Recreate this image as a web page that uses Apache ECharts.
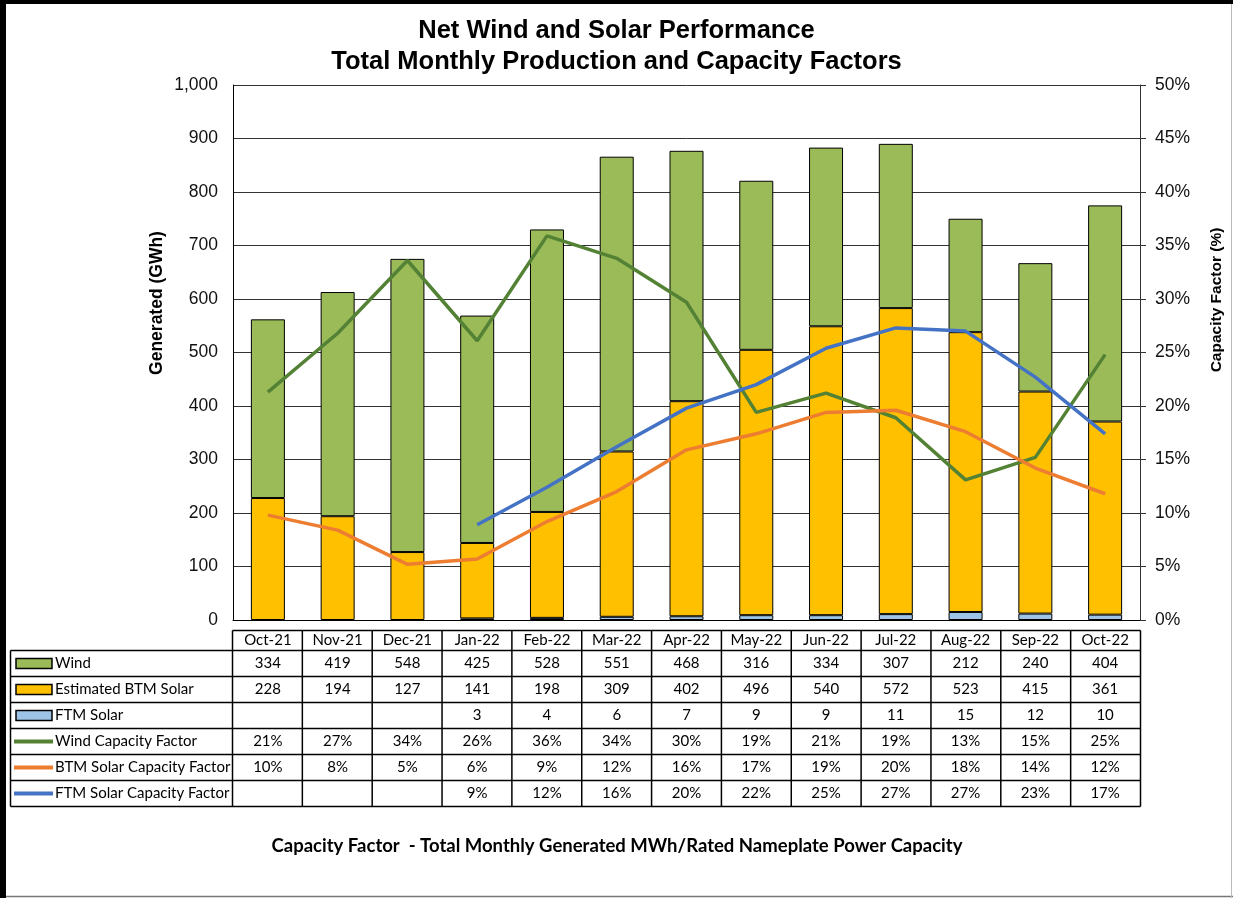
<!DOCTYPE html>
<html><head><meta charset="utf-8">
<script src="https://cdn.jsdelivr.net/npm/echarts@6/dist/echarts.min.js"></script>
<style>html,body{margin:0;padding:0;background:#fff}#c{width:1233px;height:898px}</style>
</head><body><div id="c"></div>
<script>
const categories = ['Oct-21','Nov-21','Dec-21','Jan-22','Feb-22','Mar-22','Apr-22','May-22','Jun-22','Jul-22','Aug-22','Sep-22','Oct-22'];
const wind = [334,419,548,425,528,551,468,316,334,307,212,240,404];
const btmSolar = [228,194,127,141,198,309,402,496,540,572,523,415,361];
const ftmSolar = [null,null,null,3,4,6,7,9,9,11,15,12,10];
const windCF = [21.3,26.8,33.6,26.1,35.9,33.8,29.7,19.4,21.2,18.9,13.1,15.2,24.8];
const btmCF = [9.8,8.4,5.2,5.7,9.2,12.0,15.9,17.4,19.4,19.6,17.6,14.2,11.8];
const ftmCF = [null,null,null,8.9,12.4,16.2,19.8,22.0,25.4,27.3,27.0,22.7,17.4];
const leftTicks = {min:0, max:1000, interval:100};
const rightTicks = {min:0, max:50, interval:5};

const C = {wind:'#9BBB59', btm:'#FFC000', ftm:'#9DC3E6', windL:'#548235', btmL:'#ED7D31', ftmL:'#4472C4'};
const GRID = {left:233, right:93, top:85, bottom:278};
const AX = 'Liberation Sans';
const TB = 'Lato';

const chart = echarts.init(document.getElementById('c'));
const barStyle = col => ({color:col, borderColor:'#000', borderWidth:1});
chart.setOption({
  animation:false,
  backgroundColor:'#fff',
  title:{text:'Net Wind and Solar Performance\nTotal Monthly Production and Capacity Factors', left:'center', top:10,
    textStyle:{fontFamily:AX, fontSize:25.5, fontWeight:'bold', color:'#000', lineHeight:31}},
  grid:GRID,
  xAxis:{type:'category', data:categories, axisLine:{lineStyle:{color:'#000', width:1}}, axisTick:{show:false}, axisLabel:{show:false}},
  yAxis:[
    {type:'value', min:leftTicks.min, max:leftTicks.max, interval:leftTicks.interval, position:'left',
     axisLine:{show:true, lineStyle:{color:'#000'}}, axisTick:{show:false},
     axisLabel:{margin:15, fontFamily:AX, fontSize:17.5, color:'#111', formatter:v=>v.toLocaleString('en-US')},
     splitLine:{lineStyle:{color:'#333', width:1}}},
    {type:'value', min:rightTicks.min, max:rightTicks.max, interval:rightTicks.interval, position:'right',
     axisLine:{show:true, lineStyle:{color:'#333'}}, axisTick:{show:true, length:6, lineStyle:{color:'#333'}},
     axisLabel:{margin:15, fontFamily:AX, fontSize:17.5, color:'#111', formatter:v=>v+'%'},
     splitLine:{show:false}}
  ],
  series:[
    {name:'FTM Solar', type:'bar', stack:'g', data:ftmSolar, barWidth:34, itemStyle:barStyle(C.ftm)},
    {name:'Estimated BTM Solar', type:'bar', stack:'g', data:btmSolar, barWidth:34, itemStyle:barStyle(C.btm)},
    {name:'Wind', type:'bar', stack:'g', data:wind, barWidth:34, itemStyle:barStyle(C.wind)},
    {name:'Wind Capacity Factor', type:'line', yAxisIndex:1, data:windCF, symbol:'none', lineStyle:{color:C.windL, width:3.5}, z:5},
    {name:'BTM Solar Capacity Factor', type:'line', yAxisIndex:1, data:btmCF, symbol:'none', lineStyle:{color:C.btmL, width:3.5}, z:5},
    {name:'FTM Solar Capacity Factor', type:'line', yAxisIndex:1, data:ftmCF, symbol:'none', lineStyle:{color:C.ftmL, width:3.5}, z:5}
  ]
});

function buildGraphics(){
  const W = 1233, H = 898;
  const x0 = GRID.left - 0.5, x1 = W - GRID.right + 0.5;
  const n = categories.length;
  const colW = (x1 - x0) / n;
  const hdrTop = 630.5, hdrBot = 650.5, rowH = 26;
  const tblLeft = 10.5;
  const fmtN = v => v == null ? '' : String(v);
  const fmtP = v => v == null ? '' : Math.round(v) + '%';
  const rows = [
    {label:'Wind', kind:'bar', color:C.wind, vals:wind.map(fmtN)},
    {label:'Estimated BTM Solar', kind:'bar', color:C.btm, vals:btmSolar.map(fmtN)},
    {label:'FTM Solar', kind:'bar', color:C.ftm, vals:ftmSolar.map(fmtN)},
    {label:'Wind Capacity Factor', kind:'line', color:C.windL, vals:windCF.map(fmtP)},
    {label:'BTM Solar Capacity Factor', kind:'line', color:C.btmL, vals:btmCF.map(fmtP)},
    {label:'FTM Solar Capacity Factor', kind:'line', color:C.ftmL, vals:ftmCF.map(fmtP)}
  ];
  const tblBot = hdrBot + rows.length * rowH;
  const els = [];
  const line = (a,b,c,d,col,w) => els.push({type:'line', shape:{x1:a,y1:b,x2:c,y2:d}, style:{stroke:col||'#000', lineWidth:w||1.5}, z:10});
  const text = (t,x,y,opt) => els.push({type:'text', x:x, y:y, z:11, style:Object.assign({text:t, font:'15px '+TB, fill:'#000', align:'center', verticalAlign:'middle', textAlign:'center', textVerticalAlign:'middle'}, opt||{})});
  // outer frame
  els.push({type:'rect', shape:{x:0,y:0,width:6,height:H}, style:{fill:'#000'}, z:20});
  els.push({type:'rect', shape:{x:0,y:0,width:W,height:4}, style:{fill:'#000'}, z:20});
  line(0, 896.5, W, 896.5, '#777', 1.5);
  line(1231.5, 0, 1231.5, H, '#bbb', 1);
  // header row
  line(x0, hdrTop, x1, hdrTop);
  for (let k = 0; k <= n; k++) {
    const x = x0 + k * colW;
    line(x, hdrTop, x, tblBot);
  }
  categories.forEach(c => {
    const cx = chart.convertToPixel({xAxisIndex:0}, c);
    text(c, cx, (hdrTop + hdrBot) / 2);
  });
  // body
  line(tblLeft, hdrBot, x1, hdrBot);
  line(tblLeft, hdrBot, tblLeft, tblBot);
  rows.forEach((r, i) => {
    const yT = hdrBot + i * rowH, yB = yT + rowH, yc = (yT + yB) / 2;
    line(tblLeft, yB, x1, yB);
    if (r.kind === 'bar') {
      els.push({type:'rect', shape:{x:16,y:yc-5,width:36,height:10}, style:{fill:r.color, stroke:'#000', lineWidth:1.5}, z:11});
    } else {
      els.push({type:'line', shape:{x1:14,y1:yc,x2:53,y2:yc}, style:{stroke:r.color, lineWidth:4}, z:11});
    }
    text(r.label, 55, yc, {align:'left', textAlign:'left'});
    r.vals.forEach((v, j) => {
      const cx = chart.convertToPixel({xAxisIndex:0}, categories[j]);
      if (v !== '') text(v, cx, yc);
    });
  });
  // axis names
  els.push({type:'text', x:157, y:303, rotation:Math.PI/2, z:11, style:{text:'Generated (GWh)', font:'bold 17.5px '+AX, fill:'#000', align:'center', verticalAlign:'middle', textAlign:'center', textVerticalAlign:'middle'}});
  els.push({type:'text', x:1217, y:300, rotation:Math.PI/2, z:11, style:{text:'Capacity Factor (%)', font:'bold 15.5px '+AX, fill:'#000', align:'center', verticalAlign:'middle', textAlign:'center', textVerticalAlign:'middle'}});
  // footnote
  text('Capacity Factor  - Total Monthly Generated MWh/Rated Nameplate Power Capacity', 617, 846, {font:'bold 18.5px '+TB});
  chart.setOption({graphic:els});
}
buildGraphics();
</script>
</body></html>
